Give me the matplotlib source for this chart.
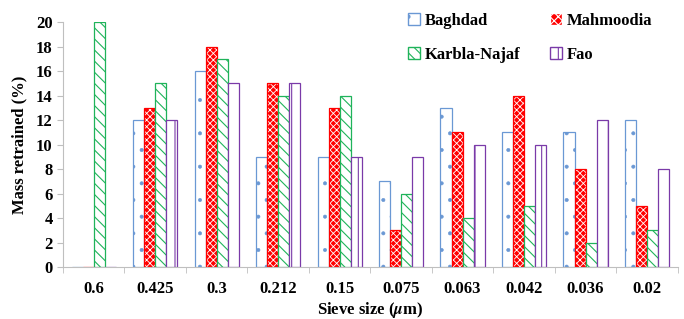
import numpy as np
import matplotlib.pyplot as plt
from matplotlib.patches import Patch

plt.rcParams['font.family'] = ['Liberation Serif', 'DejaVu Serif']
plt.rcParams['font.weight'] = 'bold'
plt.rcParams['mathtext.fontset'] = 'stix'
plt.rcParams['hatch.linewidth'] = 0.8

# sieve sizes and mass retained (%) per site
sieve = ['0.6', '0.425', '0.3', '0.212', '0.15', '0.075', '0.063', '0.042', '0.036', '0.02']
baghdad = [0, 12, 16, 9, 9, 7, 13, 11, 11, 12]
mahmoodia = [0, 13, 18, 15, 13, 3, 11, 14, 8, 5]
karbla = [20, 15, 17, 14, 14, 6, 4, 5, 2, 3]
fao = [0, 12, 15, 15, 9, 9, 10, 10, 12, 8]

fig = plt.figure(figsize=(6.84, 3.19), dpi=100)
ax = fig.add_axes([0.092, 0.163, 0.899, 0.768])

x = np.arange(len(sieve))
w = 0.18
blue = '#6a98d4'
red = '#ff0000'
green = '#1fb35a'
purple = '#7a3aa8'
fs = 12

with plt.rc_context({'hatch.linewidth': 0.4}):
    ax.bar(x - 1.5 * w, baghdad, w, facecolor='white', edgecolor=blue, hatch='.', linewidth=0.9)
# red checkerboard: red fill with white hatch, then red outline
with plt.rc_context({'hatch.linewidth': 0.6}):
    ax.bar(x - 0.5 * w, mahmoodia, w, facecolor=red, edgecolor='white', hatch='xxxxx', linewidth=0)
ax.bar(x - 0.5 * w, mahmoodia, w, facecolor='none', edgecolor=red, linewidth=0.9)
ax.bar(x + 0.5 * w, karbla, w, facecolor='white', edgecolor=green, hatch='\\\\\\', linewidth=0.9)
ax.bar(x + 1.5 * w, fao, w, facecolor='white', edgecolor=purple, hatch='|', linewidth=0.9)

ax.set_xlim(-0.5, len(sieve) - 0.5)
ax.set_ylim(0, 20)
ax.set_yticks(range(0, 21, 2))
ax.set_xticks(x)
ax.set_xticklabels(sieve, fontsize=fs, fontweight='bold')
ax.set_xticks(np.arange(-0.5, len(sieve), 1), minor=True)
ax.tick_params(axis='x', which='major', length=0, pad=10)
ax.tick_params(axis='x', which='minor', length=4, color='#bfbfbf')
ax.tick_params(axis='y', length=4, color='#bfbfbf', labelsize=fs)
for lab in ax.get_yticklabels():
    lab.set_fontweight('bold')

for s in ['top', 'right']:
    ax.spines[s].set_visible(False)
for s in ['left', 'bottom']:
    ax.spines[s].set_color('#bfbfbf')

ax.set_ylabel('Mass retrained (%)', fontsize=fs, fontweight='bold', labelpad=6)
ax.set_xlabel(r'Sieve size ($\mu$m)', fontsize=fs, fontweight='bold', labelpad=2)

h_bag = Patch(facecolor='white', edgecolor=blue, hatch='.', label='Baghdad')
h_mah = Patch(facecolor=red, edgecolor='white', hatch='xxxx', label='Mahmoodia')
h_kar = Patch(facecolor='white', edgecolor=green, hatch='\\\\\\', label='Karbla-Najaf')
h_fao = Patch(facecolor='white', edgecolor=purple, hatch='|', label='Fao')
ax.legend(handles=[h_bag, h_kar, h_mah, h_fao], ncol=2, frameon=False, loc='upper left',
          bbox_to_anchor=(0.537, 1.1), fontsize=fs, handlelength=0.7,
          handleheight=0.7, handletextpad=0.3, columnspacing=1.8, labelspacing=1.1)

fig.savefig('out.png', dpi=100)
